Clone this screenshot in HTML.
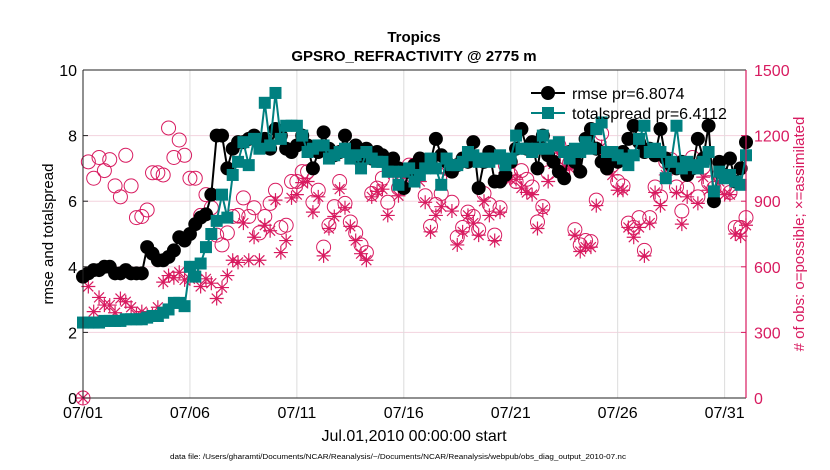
<!DOCTYPE html>
<html><head><meta charset="utf-8"><style>
body{margin:0;background:#fff;}
svg{display:block;font-family:"Liberation Sans",Arial,sans-serif;}
</style></head><body>
<svg id="chart" width="830" height="470" xmlns="http://www.w3.org/2000/svg">
<rect width="830" height="470" fill="#fff"/>
<text x="414" y="42" text-anchor="middle" font-size="15" font-weight="bold">Tropics</text>
<text x="414" y="61" text-anchor="middle" font-size="15" font-weight="bold">GPSRO_REFRACTIVITY @ 2775 m</text>
<g id="grid"></g>
<g id="marks"></g>
<g id="axes"></g>
<text transform="translate(53,234) rotate(-90)" text-anchor="middle" font-size="15">rmse and totalspread</text>
<text transform="translate(804,234) rotate(-90)" text-anchor="middle" font-size="15" fill="#d81b60"># of obs: o=possible; ×=assimilated</text>
<text x="414" y="441" text-anchor="middle" font-size="16">Jul.01,2010 00:00:00 start</text>
<text x="170" y="459" font-size="7" textLength="456" lengthAdjust="spacingAndGlyphs">data file: /Users/gharamti/Documents/NCAR/Reanalysis/~/Documents/NCAR/Reanalysis/webpub/obs_diag_output_2010-07.nc</text>
<g>
<line x1="531" y1="93" x2="565" y2="93" stroke="#000" stroke-width="2"/>
<circle cx="548" cy="93" r="7" fill="#000"/>
<text x="572" y="99" font-size="16">rmse pr=6.8074</text>
<line x1="531" y1="113" x2="565" y2="113" stroke="#008080" stroke-width="2"/>
<rect x="542" y="107" width="12" height="12" fill="#008080"/>
<text x="572" y="119" font-size="16">totalspread pr=6.4112</text>
</g>
</svg>
<script>
const dateLabels = ["07/01","07/06","07/11","07/16","07/21","07/26","07/31"];
const dateTickDays = [0,5,10,15,20,25,30];
const leftTicks = [0,2,4,6,8,10];
const rightTicks = [0,300,600,900,1200,1500];
const rmse = [3.7,3.8,3.9,3.9,4.0,4.0,3.8,3.8,3.9,3.8,3.8,3.8,4.6,4.4,4.2,4.2,4.3,4.5,4.9,4.8,5.0,5.3,5.5,5.6,6.2,8.0,8.0,7.0,7.6,7.8,7.8,7.9,8.0,7.8,7.9,7.6,8.2,8.0,7.6,7.5,7.7,8.0,7.7,7.0,7.5,8.1,7.6,7.4,7.5,8.0,7.5,7.7,7.2,7.6,7.3,7.5,7.4,7.2,7.3,7.0,6.4,6.9,7.1,7.3,7.1,7.2,7.9,7.4,7.2,6.9,7.1,7.3,7.2,7.8,6.4,7.2,7.5,6.6,6.6,6.8,7.2,7.6,8.2,7.6,7.8,7.0,8.0,7.4,7.2,6.9,6.7,7.5,7.2,6.9,7.9,8.2,7.6,7.2,7.0,7.3,7.2,7.5,7.9,8.3,7.8,7.5,7.6,7.4,8.2,7.3,7.1,7.0,7.2,6.8,7.0,7.9,7.3,8.3,6.0,7.2,6.8,7.3,6.6,7.0,7.8];
const spread = [2.3,2.3,2.3,2.3,2.35,2.35,2.35,2.35,2.4,2.4,2.4,2.4,2.45,2.5,2.5,2.6,2.7,2.9,2.9,2.8,4.0,3.7,4.1,4.6,5.0,5.4,6.2,5.5,6.8,7.2,7.8,7.1,7.9,7.6,9.0,7.7,9.3,7.9,8.3,8.3,8.3,8.0,7.5,7.6,7.7,7.7,7.3,7.4,7.5,7.6,7.3,7.4,7.0,7.5,7.3,7.2,7.2,6.9,6.9,6.5,6.9,7.0,6.6,6.8,7.0,7.3,7.0,6.5,7.3,7.1,7.1,7.2,7.5,7.4,7.2,7.3,7.2,7.3,7.4,7.1,7.3,8.0,7.6,7.6,7.5,7.6,8.0,7.6,7.7,7.8,7.5,7.3,7.6,7.5,7.8,7.6,8.2,8.4,7.5,7.5,7.4,7.3,7.1,7.4,7.9,8.3,7.5,7.6,7.5,6.7,7.2,8.3,7.0,7.2,7.1,7.0,7.2,7.5,6.3,6.9,6.7,6.8,6.6,6.5,7.4];
const obsPossible = [0,1080,1005,1100,1040,1090,970,920,1110,970,825,830,860,1030,1030,1020,1235,1100,1180,1110,1005,1005,835,930,870,745,700,755,830,835,915,830,870,755,830,890,950,780,790,990,990,1035,1035,
895,950,690,790,875,990,890,805,755,700,665,935,960,1005,895,1055,960,1040,1065,1065,1055,925,785,885,935,1050,895,735,780,850,830,770,935,885,745,870,1065,1020,990,1040,1000,
965,805,875,1030,1090,1155,1090,1075,770,700,720,715,905,1210,1100,1065,990,970,800,780,825,675,825,965,920,1080,1090,965,855,960,1100,920,1055,985,960,1020,965,940,780,780,825];
const obsAssim = [0,510,395,460,425,425,390,455,440,415,380,395,380,380,415,530,560,550,575,540,545,560,510,545,525,455,505,560,630,620,800,630,735,630,790,765,905,665,720,915,930,985,990,
850,920,650,775,830,955,870,785,720,660,630,920,945,955,835,1025,925,1010,1010,1025,990,895,760,835,875,1030,855,700,760,835,800,745,900,835,720,850,1030,1000,1000,960,940,
930,775,860,990,1070,1120,1060,1050,745,670,690,690,880,1150,1060,1020,950,950,780,735,780,650,800,940,880,1020,1060,940,795,920,1060,890,1010,950,940,990,930,930,750,740,790];

const X0=83,X1=746,Y0=398,Y1=70;
const xs = d => X0 + d*(X1-X0)/31;
const yL = v => Y0 - v*(Y0-Y1)/10;
const yR = v => Y0 - v*(Y0-Y1)/1500;
const NS="http://www.w3.org/2000/svg";
function mk(tag, attrs, parent){const e=document.createElementNS(NS,tag);for(const k in attrs)e.setAttribute(k,attrs[k]);parent.appendChild(e);return e;}
const grid=document.getElementById('grid'), marks=document.getElementById('marks'), axes=document.getElementById('axes');
const RED="#d81b60";

leftTicks.forEach((t,i)=>{
  const y=yL(t);
  const g=mk('line',{x1:X0,x2:X1,y1:y,y2:y,stroke:'#f3d3de','stroke-width':1},grid);
  
  
  const tl=mk('text',{x:X0-6,y:y+6,'text-anchor':'end','font-size':16},axes);
  tl.textContent=t;
  
  
  const tk=mk('line',{x1:X0,x2:X0+5,y1:y,y2:y,stroke:'#222'},axes);
  
  
});
rightTicks.forEach(t=>{
  const y=yR(t);
  const tl=mk('text',{x:X1+8,y:y+6,'font-size':16,fill:RED},axes);
  tl.textContent=t;
  
  
  const tk=mk('line',{x1:X1-5,x2:X1,y1:y,y2:y,stroke:RED},axes);
  
  
});
dateTickDays.forEach((d,i)=>{
  const x=xs(d);
  const g=mk('line',{x1:x,x2:x,y1:Y1,y2:Y0,stroke:'#dcdcdc','stroke-width':1},grid);
  
  
  const tl=mk('text',{x:x,y:Y0+20,'text-anchor':'middle','font-size':16},axes);
  tl.textContent=dateLabels[i];
  
  
});
const bx=mk('path',{d:`M${X0},${Y1}V${Y0}H${X1}M${X0},${Y1}H${X1}`,fill:'none',stroke:'#222','stroke-width':1},axes);


const ra=mk('line',{x1:X1,x2:X1,y1:Y1,y2:Y0,stroke:RED,'stroke-width':1.2},axes);



const dayOf = i => i*0.25;
// obs possible circles
obsPossible.forEach((v,i)=>{
  const c=mk('circle',{cx:xs(dayOf(i)),cy:yR(v),r:7,fill:'none',stroke:RED,'stroke-width':1},marks);
  
  
});
obsAssim.forEach((v,i)=>{
  const x=xs(dayOf(i)),y=yR(v),r=7;
  let d='';
  for(let a=0;a<4;a++){const t=a*Math.PI/4;d+=`M${x-r*Math.cos(t)},${y-r*Math.sin(t)}L${x+r*Math.cos(t)},${y+r*Math.sin(t)}`;}
  const p=mk('path',{d:d,stroke:RED,'stroke-width':1.2},marks);
  
  
});
// rmse
const rl=mk('polyline',{points:rmse.map((v,i)=>xs(dayOf(i))+','+yL(v)).join(' '),fill:'none',stroke:'#000','stroke-width':2},marks);


rmse.forEach((v,i)=>{
  const c=mk('circle',{cx:xs(dayOf(i)),cy:yL(v),r:7,fill:'#000'},marks);
  
  
});
const sl=mk('polyline',{points:spread.map((v,i)=>xs(dayOf(i))+','+yL(v)).join(' '),fill:'none',stroke:'#008080','stroke-width':2},marks);


spread.forEach((v,i)=>{
  const r=mk('rect',{x:xs(dayOf(i))-6,y:yL(v)-6,width:12,height:12,fill:'#008080'},marks);
  
  
});
</script>
</body></html>
